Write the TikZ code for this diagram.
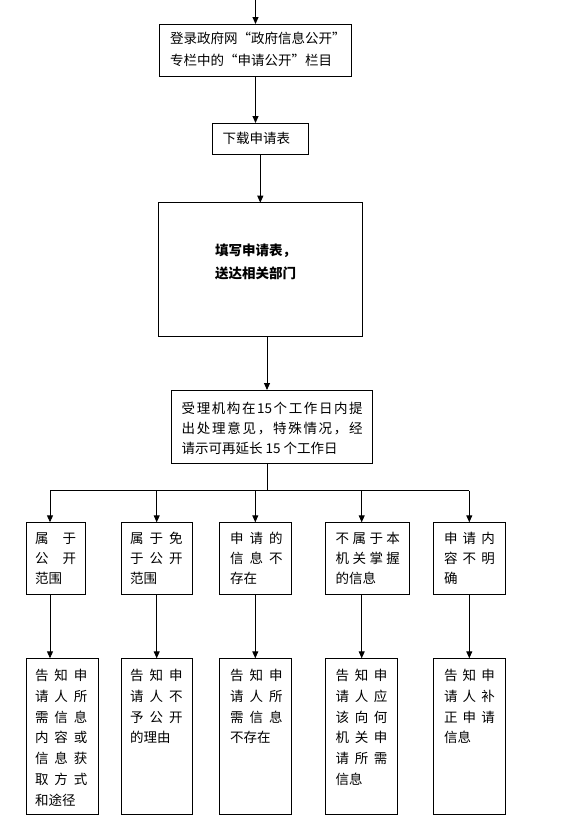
\documentclass[tikz,border=0pt]{standalone}
\usepackage{fontspec}
\setmainfont{Noto Sans CJK SC}
\usetikzlibrary{arrows.meta}
\def\spreadA#1{#1\spreadB}
\def\spreadB#1{\ifx\relax#1\else\hfil#1\expandafter\spreadB\fi}
\newcommand\spr[2]{\hbox to #1pt{\spreadA#2\relax}}
\newcommand\bx[5]{\node[box,anchor=north west,minimum width=#4pt-#2pt,minimum height=#5pt-#3pt] (#1) at (#2,#3) {};}
\begin{document}
\begin{tikzpicture}[x=1pt,y=-1pt,
  box/.style={draw,line width=0.9pt,inner sep=0pt,outer sep=0pt},
  txt/.style={inner sep=0pt,outer sep=0pt,align=left,anchor=base west,font=\fontsize{13.5}{#1}\selectfont},
  txt/.default=20,
  arr/.style={line width=0.9pt,-{Triangle[length=7pt,width=6pt]}},
  ln/.style={line width=0.9pt}]
\useasboundingbox (0,0) rectangle (560,835);
% boxes
\bx{b1}{159.3}{24}{351.7}{76}
\bx{b2}{212.3}{123}{308.3}{154}
\bx{b3}{158.3}{202.7}{362.3}{336.7}
\bx{b4}{171.7}{390}{372.7}{463.3}
\bx{ra}{26.7}{522.3}{85.3}{594}
\bx{rb}{121.3}{522.3}{192.3}{594}
\bx{rc}{219}{522.3}{291.7}{594}
\bx{rd}{325.3}{522.3}{409.3}{594}
\bx{re}{433.3}{522.3}{505.3}{594}
\bx{sa}{26.7}{658.3}{98.3}{814}
\bx{sb}{121.3}{658.3}{192.3}{814}
\bx{sc}{219}{658.3}{291.7}{814}
\bx{sd}{325.3}{658.3}{397.3}{814}
\bx{se}{433.3}{658.3}{505.3}{814}
% texts (anchor = baseline of the last line)
\node[txt=22] (t1) at (170,65) {登录政府网“政府信息公开”\\专栏中的“申请公开”栏目};
\node[txt] (t2) at (222.7,143) {下载申请表};
\node[txt=23] (t3) at (215,278) {\bfseries 填写申请表，\\\bfseries 送达相关部门};
\node[txt] (t4) at (181.7,453) {\hbox to 181pt{受\hfil 理\hfil 机\hfil 构\hfil 在\hfil 15\hfil 个\hfil 工\hfil 作\hfil 日\hfil 内\hfil 提}\\\spr{181}{出处理意见，特殊情况，经}\\请示可再延长 15 个工作日};
\node[txt] (ta) at (35,583.3) {\spr{41}{属于}\\\spr{41}{公开}\\范围};
\node[txt] (tb) at (130,583.3) {\spr{52.7}{属于免}\\\spr{52.7}{于公开}\\范围};
\node[txt] (tc) at (230,583.3) {\spr{52.7}{申请的}\\\spr{52.7}{信息不}\\存在};
\node[txt] (td) at (335.7,583.3) {\spr{64.3}{不属于本}\\\spr{64.3}{机关掌握}\\的信息};
\node[txt] (te) at (444,583.3) {\spr{51}{申请内}\\\spr{51}{容不明}\\确};
\node[txt=20.75] (ua) at (35,805) {\spr{52.3}{告知申}\\\spr{52.3}{请人所}\\\spr{52.3}{需信息}\\\spr{52.3}{内容或}\\\spr{52.3}{信息获}\\\spr{52.3}{取方式}\\和途径};
\node[txt=20.75] (ub) at (130,742.75) {\spr{52.7}{告知申}\\\spr{52.7}{请人不}\\\spr{52.7}{予公开}\\的理由};
\node[txt=20.75] (uc) at (230,742.75) {\spr{52.7}{告知申}\\\spr{52.7}{请人所}\\\spr{52.7}{需信息}\\不存在};
\node[txt=20.75] (ud) at (335.7,784.25) {\spr{51.6}{告知申}\\\spr{51.6}{请人应}\\\spr{51.6}{该向何}\\\spr{51.6}{机关申}\\\spr{51.6}{请所需}\\信息};
\node[txt=20.75] (ue) at (444,742.75) {\spr{51}{告知申}\\\spr{51}{请人补}\\\spr{51}{正申请}\\信息};
% connectors
\coordinate (top) at (255.5,0);
\draw[arr] (top) -- (b1.north);
\draw[arr] (b1.south) -- (b1.south |- b2.north);
\draw[arr] (b2.south) -- (b2.south |- b3.north);
\coordinate (c4) at (267,0);
\draw[arr] (b3.south -| c4) -- (b4.north -| c4);
\coordinate (bus) at (267,490.7);
\draw[ln] (b4.south -| c4) -- (bus);
\coordinate (xa) at (50,490.7);
\coordinate (xb) at (156.7,490.7);
\coordinate (xc) at (255.3,490.7);
\coordinate (xd) at (361.7,490.7);
\coordinate (xe) at (469.3,490.7);
\draw[ln] (xa) -- (xe);
\foreach \p/\q/\s in {xa/ra/sa,xb/rb/sb,xc/rc/sc,xd/rd/sd,xe/re/se}{
  \draw[arr] (\p) -- (\q.north -| \p);
  \draw[arr] (\q.south -| \p) -- (\s.north -| \p);
}
\end{tikzpicture}
\end{document}
